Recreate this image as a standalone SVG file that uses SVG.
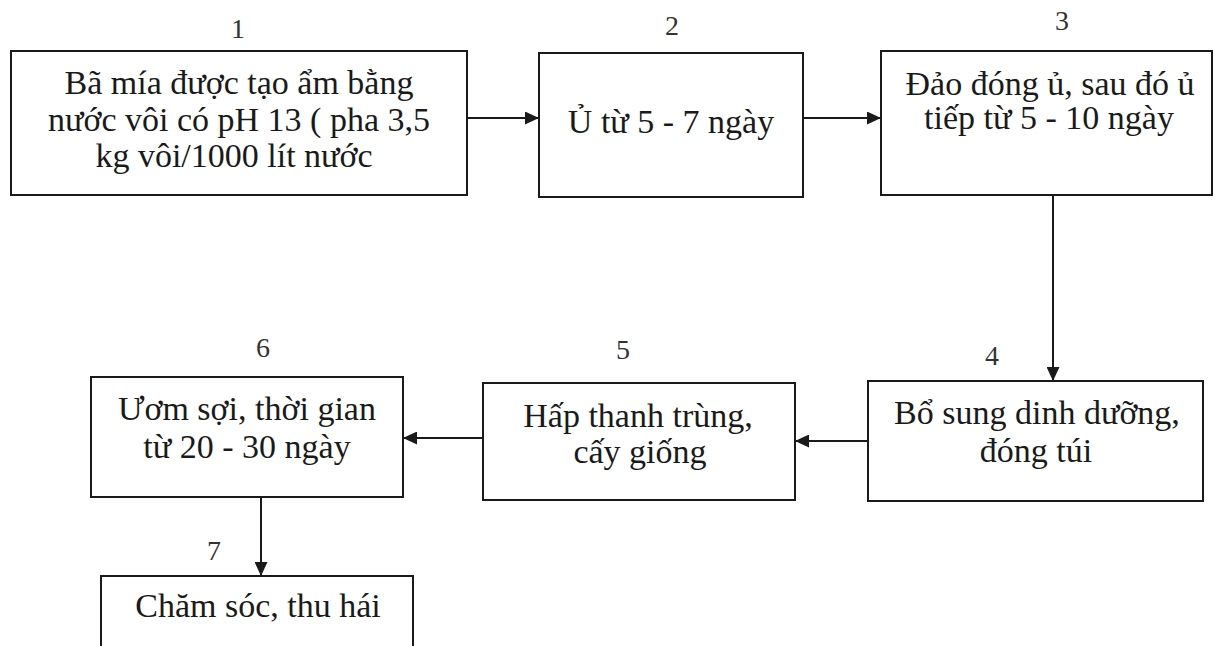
<svg xmlns="http://www.w3.org/2000/svg" width="1213" height="646" viewBox="0 0 1213 646">
<style>
.box{fill:#fff;stroke:#1a1a1a;stroke-width:2}
.t{font-family:"Liberation Serif","Times New Roman",serif;font-size:34px;fill:#1a1a1a;text-anchor:middle}
.n{font-family:"Liberation Serif","Times New Roman",serif;font-size:28px;fill:#333;text-anchor:middle}
.c{stroke:#1a1a1a;stroke-width:2;fill:none;marker-end:url(#ah)}
</style>
<defs>
<marker id="ah" markerUnits="userSpaceOnUse" markerWidth="15" markerHeight="13" refX="14" refY="6.5" orient="auto">
<path d="M0,0 L14,6.5 L0,13 Z" fill="#1a1a1a"/>
</marker>
</defs>
<rect width="1213" height="646" fill="#fff"/>
<g id="connectors">
<line class="c" x1="467" y1="118" x2="539" y2="118"/>
<line class="c" x1="803" y1="118" x2="881" y2="118"/>
<line class="c" x1="1053" y1="195" x2="1053" y2="381"/>
<line class="c" x1="868" y1="441" x2="795" y2="441"/>
<line class="c" x1="483" y1="438" x2="403" y2="438"/>
<line class="c" x1="261" y1="497" x2="261" y2="576"/>
</g>
<g id="node1">
<text class="n" x="238" y="38">1</text>
<rect class="box" x="11" y="51" width="456" height="144"/>
<text class="t" x="239" y="94">Bã mía được tạo ẩm bằng</text>
<text class="t" x="239" y="131">nước vôi có pH 13 ( pha 3,5</text>
<text class="t" x="234" y="167">kg vôi/1000 lít nước</text>
</g>
<g id="node2">
<text class="n" x="672" y="35">2</text>
<rect class="box" x="539" y="53" width="264" height="144"/>
<text class="t" x="671" y="133">Ủ từ 5 - 7 ngày</text>
</g>
<g id="node3">
<text class="n" x="1062" y="30">3</text>
<rect class="box" x="881" y="51" width="331" height="144"/>
<text class="t" x="1050" y="95">Đảo đóng ủ, sau đó ủ</text>
<text class="t" x="1049" y="129">tiếp từ 5 - 10 ngày</text>
</g>
<g id="node4">
<text class="n" x="992" y="365">4</text>
<rect class="box" x="868" y="381" width="335" height="120"/>
<text class="t" x="1037" y="424">Bổ sung dinh dưỡng,</text>
<text class="t" x="1036" y="462">đóng túi</text>
</g>
<g id="node5">
<text class="n" x="623" y="359">5</text>
<rect class="box" x="483" y="383" width="312" height="117"/>
<text class="t" x="638" y="427">Hấp thanh trùng,</text>
<text class="t" x="640" y="463">cấy giống</text>
</g>
<g id="node6">
<text class="n" x="263" y="357">6</text>
<rect class="box" x="91" y="377" width="312" height="120"/>
<text class="t" x="247" y="420">Ươm sợi, thời gian</text>
<text class="t" x="247" y="458">từ 20 - 30 ngày</text>
</g>
<g id="node7">
<text class="n" x="214" y="560">7</text>
<rect class="box" x="101" y="576" width="312" height="100"/>
<text class="t" x="258" y="617">Chăm sóc, thu hái</text>
</g>
</svg>
